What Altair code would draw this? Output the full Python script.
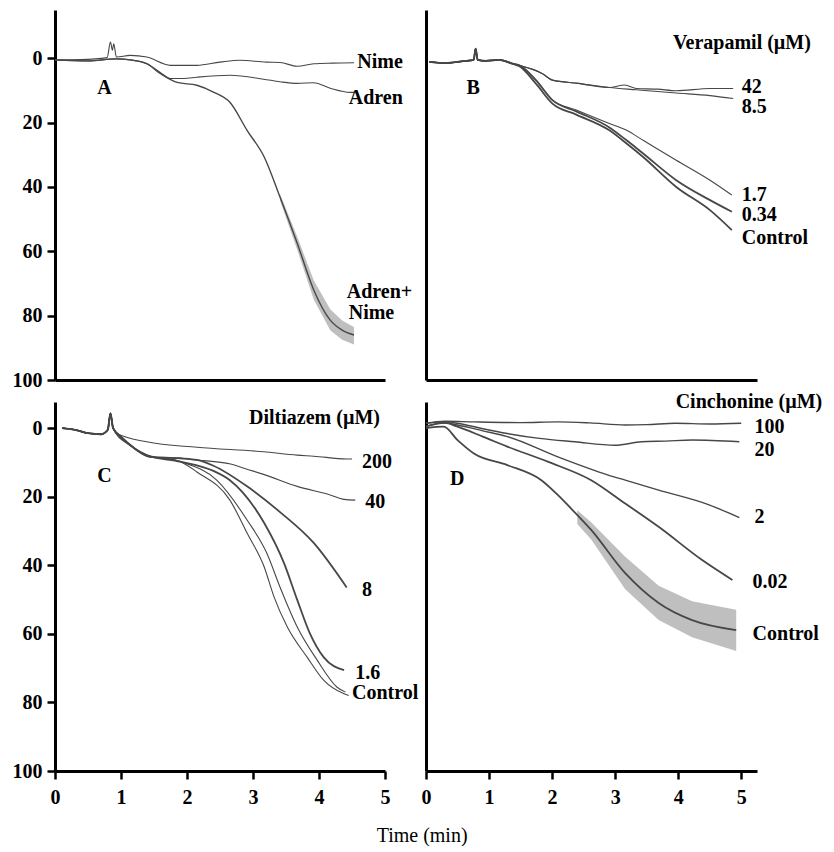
import altair as alt
import pandas as pd

FONT = "Liberation Serif"
LINE = "#474747"

# ---------------- Panel A ----------------
A_nime_t = [0, 0.38, 0.79, 0.84, 0.87, 0.89, 0.93, 1.14, 1.39, 1.75, 2.15, 2.5, 2.8, 3.2, 3.41, 3.67, 3.92, 4.2, 4.53]
A_nime_v = [0.5, 0.4, -0.2, -5, -2.5, -4.5, -0.4, -0.9, -0.4, 2.2, 2.2, 1.2, 0.6, 1.2, 1.3, 2.5, 1.7, 1.5, 1.4]
A_adren_t = [0, 0.5, 0.93, 1.14, 1.39, 1.6, 1.75, 1.95, 2.15, 2.65, 3.16, 3.41, 3.67, 3.92, 4.17, 4.47, 4.53]
A_adren_v = [0.5, 0.8, 0.2, 0.5, 1.7, 4.5, 6.3, 6.3, 5.9, 5.3, 6.5, 7.3, 7.8, 7.6, 9.3, 10.6, 10.6]
A_both_t = [0, 0.5, 0.93, 1.14, 1.39, 1.6, 1.85, 2.15, 2.4, 2.65, 2.91, 3.17, 3.41, 3.67, 3.92, 4.17, 4.35, 4.53]
A_both_v = [0.5, 0.8, 0.2, 0.5, 1.7, 4.8, 7.5, 8.4, 10.5, 13.7, 22.4, 30.7, 43.2, 57.5, 72, 81.4, 84.5, 86]
A_band_t = [3.41, 3.67, 3.92, 4.17, 4.35, 4.53]
A_band_lo = [42.2, 55.5, 69, 78, 81.5, 83.5]
A_band_hi = [44.2, 59.5, 75, 84.5, 87.5, 89]
A_lab_text = ["A", "Nime", "Adren", "Adren+", "Nime"]
A_lab_t = [0.64, 4.58, 4.45, 4.42, 4.45]
A_lab_v = [9.3, 1.2, 12.4, 72.8, 79.3]

# ---------------- Panel B ----------------
B_start_t = [0.05, 0.3, 0.6, 0.72, 0.75, 0.78, 0.9, 1.1, 1.31]
B_start_v = [1.1, 1.5, 0.8, 0.5, -3.0, 0.5, 0.8, 0.5, 1.7]
B_42_t = [1.76, 1.91, 2.3, 2.77, 3.0, 3.18, 3.5, 3.78, 4.29, 4.64]
B_42_v = [4.8, 6.8, 7.8, 9.1, 8.3, 9.4, 9.6, 10.1, 9.4, 9.4]
B_85_t = [1.76, 1.91, 2.3, 2.77, 3.18, 3.78, 4.29, 4.64]
B_85_v = [4.8, 6.8, 7.8, 9.1, 9.8, 10.8, 11.6, 12.5]
B_low_t = [1.41, 1.66, 1.91, 2.27, 2.77, 3.03, 3.28, 3.78, 4.29, 4.62]
B_17_v = [2.2, 6.8, 13, 16.1, 20.3, 22.4, 25.5, 31.7, 37.9, 42.5]
B_034_v = [2.2, 6.8, 13, 16.5, 21.5, 25.5, 29.6, 37.9, 44.1, 47.7]
B_ctrl_v = [2.5, 7.9, 14.1, 17.5, 22.4, 26.5, 30.7, 40, 47.2, 53.4]
B_lab_text = ["B", "Verapamil (\u00b5M)", "42", "8.5", "1.7", "0.34", "Control"]
B_lab_t = [0.61, 3.73, 4.77, 4.77, 4.77, 4.77, 4.77]
B_lab_v = [9.3, -4.7, 9, 15.3, 42.5, 48.8, 56]

# ---------------- Panel C ----------------
C_start_t = [0.11, 0.3, 0.5, 0.7, 0.8, 0.84, 0.88]
C_start_v = [0, 0.5, 1.5, 1.8, 0.5, -4.3, 0]
C_200_t = [0.94, 1.39, 2.15, 3.16, 3.67, 3.92, 4.42, 4.5]
C_200_v = [1.6, 4.0, 5.6, 6.9, 7.9, 8.2, 9.0, 9.0]
C_40_t = [1.14, 1.44, 1.9, 2.15, 2.66, 2.91, 3.16, 3.67, 4.17, 4.38, 4.55]
C_40_v = [5, 8.4, 8.8, 9.3, 10.5, 12.0, 13.5, 17.0, 19.5, 20.8, 21]
C_8_t = [1.14, 1.44, 1.9, 2.15, 2.4, 2.91, 3.41, 3.92, 4.42]
C_8_v = [5, 8.4, 8.8, 9.3, 11, 17, 24.5, 33.5, 46.5]
C_16_t = [1.0, 1.39, 1.9, 2.4, 2.65, 3.17, 3.47, 3.67, 3.86, 4.07, 4.38]
C_16_v = [2.5, 7.9, 9.8, 12.5, 15.2, 27.7, 39.4, 50.1, 59.8, 66.8, 70.6]
C_ctrl_t = [1.0, 1.39, 1.9, 2.15, 2.65, 2.91, 3.17, 3.32, 3.52, 3.82, 4.07, 4.38, 4.45]
C_ctrl_v = [2.5, 7.9, 9.8, 12.8, 21, 30.6, 40.5, 49.3, 58, 66.8, 73.5, 77.5, 78]
C_ctrl2_t = [1.0, 1.39, 1.9, 2.45, 2.91, 3.21, 3.41, 3.67, 3.97, 4.27, 4.4]
C_ctrl2_v = [2.5, 7.9, 9.8, 15.2, 26.8, 36.5, 46.4, 58, 67.6, 75.5, 77]
C_lab_text = ["C", "Diltiazem (\u00b5M)", "200", "40", "8", "1.6", "Control"]
C_lab_t = [0.64, 2.94, 4.65, 4.7, 4.65, 4.55, 4.5]
C_lab_v = [14, -2.9, 9.9, 21.5, 47.2, 71.5, 77.3]

# ---------------- Panel D ----------------
D_100_t = [0, 0.3, 0.76, 1.5, 2.09, 2.6, 3.16, 3.5, 3.96, 4.5, 5.0]
D_100_v = [-1.4, -2.0, -1.8, -1.6, -1.8, -1.5, -0.9, -1.0, -1.4, -1.2, -1.4]
D_20_t = [0, 0.3, 0.5, 0.9, 1.29, 1.8, 2.36, 3.0, 3.42, 3.8, 4.22, 4.97]
D_20_v = [-1.4, -1.8, -1.4, 0.2, 1.6, 3.0, 4.0, 5.0, 4.0, 3.8, 3.5, 4.0]
D_2_t = [0, 0.3, 0.5, 0.9, 1.29, 2.09, 2.89, 3.16, 3.69, 4.49, 4.97]
D_2_v = [-0.5, -1.5, -0.9, 0.8, 2.5, 8.4, 13.7, 15.2, 18.1, 22.4, 26.1]
D_002_t = [0, 0.3, 0.5, 0.9, 1.29, 1.93, 2.62, 3.16, 3.69, 4.38, 4.86]
D_002_v = [-0.5, -1.5, -0.4, 2.5, 5.4, 9.8, 15.2, 22, 28.8, 38.5, 44.3]
D_ctrl_t = [0, 0.28, 0.5, 0.76, 1.29, 1.83, 2.09, 2.25, 2.62, 3.16, 3.69, 4.22, 4.92]
D_ctrl_v = [0, -0.4, 3.5, 7.4, 10.8, 15.2, 19.5, 22.5, 29.7, 42.3, 51, 56, 58.9]
D_band_t = [2.4, 2.62, 3.16, 3.69, 4.22, 4.92]
D_band_lo = [24, 27.5, 37.5, 46, 50.5, 53]
D_band_hi = [28, 32.5, 47, 56, 61, 65]
D_lab_text = ["D", "Cinchonine (\u00b5M)", "100", "20", "2", "0.02", "Control"]
D_lab_t = [0.38, 3.96, 5.21, 5.21, 5.21, 5.18, 5.18]
D_lab_v = [14.9, -7.6, -0.3, 6.4, 26, 45, 60]

THIN, THICK = 1.1, 1.8


def lines_df(items):
    rows = []
    for name, ts, vs, w in items:
        for t, v in zip(ts, vs):
            rows.append({"t": t, "v": v, "s": name, "w": w})
    return pd.DataFrame(rows)


def labels_df(texts, ts, vs):
    return pd.DataFrame({"label": texts, "t": ts, "v": vs})


def band_df(ts, lo, hi):
    return pd.DataFrame({"t": ts, "lo": lo, "hi": hi})


def axis(show, values=None, pad=5):
    common = dict(title=None, grid=False, domainColor="black", domainWidth=3)
    if not show:
        return alt.Axis(ticks=False, labels=False, **common)
    return alt.Axis(values=values, tickSize=8, tickWidth=2.5, tickColor="black",
                    labelFont=FONT, labelFontSize=20, labelFontWeight="bold",
                    labelColor="black", labelFlush=False, labelOverlap=False,
                    labelPadding=pad, **common)


def panel(ldf, labdf, bdf, xdom, ydom, w, h, showx, showy):
    xs = alt.Scale(domain=xdom, nice=False, zero=False)
    ys = alt.Scale(domain=ydom, nice=False, zero=False, reverse=True)
    xa = axis(showx, [0, 1, 2, 3, 4, 5], pad=8)
    ya = axis(showy, [0, 20, 40, 60, 80, 100], pad=5)
    layers = []
    if bdf is not None:
        layers.append(alt.Chart(bdf).mark_area(color="#8a8a8a", opacity=0.55).encode(
            x=alt.X("t:Q", scale=xs, axis=xa),
            y=alt.Y("lo:Q", scale=ys, axis=ya),
            y2="hi:Q"))
    layers.append(alt.Chart(ldf).mark_line(interpolate="monotone").encode(
        x=alt.X("t:Q", scale=xs, axis=xa),
        y=alt.Y("v:Q", scale=ys, axis=ya),
        detail="s:N",
        color=alt.value(LINE),
        strokeWidth=alt.StrokeWidth("w:Q", scale=None)))
    layers.append(alt.Chart(labdf).mark_text(
        align="left", baseline="middle", font=FONT, fontSize=20,
        fontWeight="bold", color="black").encode(
        x=alt.X("t:Q", scale=xs, axis=xa),
        y=alt.Y("v:Q", scale=ys, axis=ya),
        text="label:N"))
    return alt.layer(*layers).properties(width=w, height=h)


A_lines = lines_df([
    ("Nime", A_nime_t, A_nime_v, THIN),
    ("Adren", A_adren_t, A_adren_v, THIN),
    ("Adren+Nime", A_both_t, A_both_v, 1.4),
])
B_lines = lines_df([
    ("42", B_start_t + B_42_t, B_start_v + B_42_v, THIN),
    ("8.5", B_start_t + B_85_t, B_start_v + B_85_v, THIN),
    ("1.7", B_start_t + B_low_t, B_start_v + B_17_v, THIN),
    ("0.34", B_start_t + B_low_t, B_start_v + B_034_v, THICK),
    ("Control", B_start_t + B_low_t, B_start_v + B_ctrl_v, THICK),
])
C_lines = lines_df([
    ("200", C_start_t + C_200_t, C_start_v + C_200_v, THIN),
    ("40", C_start_t + C_40_t, C_start_v + C_40_v, THIN),
    ("8", C_start_t + C_8_t, C_start_v + C_8_v, THICK),
    ("1.6", C_start_t + C_16_t, C_start_v + C_16_v, THICK),
    ("Control", C_start_t + C_ctrl_t, C_start_v + C_ctrl_v, THIN),
    ("Control b", C_start_t + C_ctrl2_t, C_start_v + C_ctrl2_v, THIN),
])
D_lines = lines_df([
    ("100", D_100_t, D_100_v, 1.4),
    ("20", D_20_t, D_20_v, 1.4),
    ("2", D_2_t, D_2_v, 1.4),
    ("0.02", D_002_t, D_002_v, THICK),
    ("Control", D_ctrl_t, D_ctrl_v, THICK),
])

pA = panel(A_lines, labels_df(A_lab_text, A_lab_t, A_lab_v), band_df(A_band_t, A_band_lo, A_band_hi),
           [0, 5], [-15, 100], 330, 370, False, True)
pB = panel(B_lines, labels_df(B_lab_text, B_lab_t, B_lab_v), None,
           [0, 5], [-15, 100], 331, 370, False, False)
pC = panel(C_lines, labels_df(C_lab_text, C_lab_t, C_lab_v), None,
           [0, 5], [-7.6, 100], 330, 369, True, True)
pD = panel(D_lines, labels_df(D_lab_text, D_lab_t, D_lab_v), band_df(D_band_t, D_band_lo, D_band_hi),
           [0, 5.25], [-7.6, 100], 331, 369, True, False)

chart = alt.concat(pA, pB, pC, pD, columns=2, spacing={"row": 22, "column": 41},
                   bounds="flush").properties(
    title=alt.TitleParams("Time (min)", orient="bottom", anchor="middle", fontSize=20,
                          font=FONT, fontWeight="normal", color="black", offset=19, dx=5),
    padding={"left": 4, "top": 2, "right": 0, "bottom": 0},
).resolve_scale(x="independent", y="independent").configure_view(stroke=None)

chart.save("out.html", embed_options={"renderer": "svg", "actions": False})
